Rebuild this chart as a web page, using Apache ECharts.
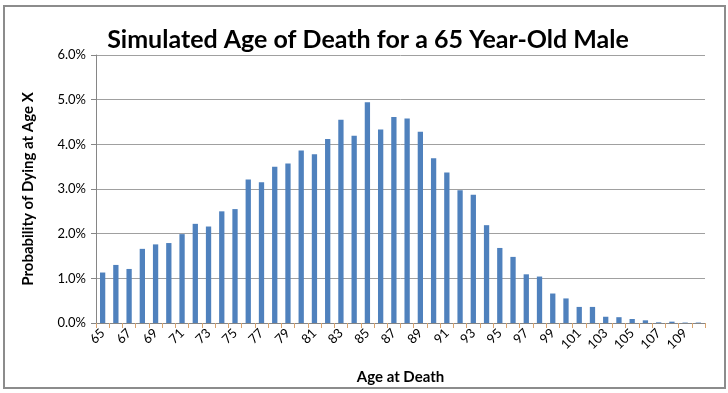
<!DOCTYPE html>
<html><head><meta charset="utf-8">
<script src="https://cdn.jsdelivr.net/npm/echarts@6/dist/echarts.min.js"></script>
<style>html,body{margin:0;padding:0;background:#fff}#c{width:728px;height:393px}
#frame{position:absolute;left:3px;top:5px;width:719px;height:380px;border:2px solid #8c8c8c;pointer-events:none}</style>
</head><body><div id="c"></div><div id="frame"></div>
<script>
const ages = [65,66,67,68,69,70,71,72,73,74,75,76,77,78,79,80,81,82,83,84,85,86,87,88,89,90,91,92,93,94,95,96,97,98,99,100,101,102,103,104,105,106,107,108,109,110];
const probs = [1.13,1.30,1.21,1.66,1.76,1.79,1.99,2.22,2.16,2.50,2.55,3.21,3.15,3.50,3.57,3.86,3.78,4.12,4.55,4.19,4.94,4.33,4.61,4.58,4.28,3.69,3.37,2.97,2.87,2.19,1.68,1.48,1.09,1.04,0.66,0.55,0.36,0.36,0.14,0.13,0.09,0.06,0.015,0.03,0.01,0.01];
const yTicks = [0,1,2,3,4,5,6];
const chart = echarts.init(document.getElementById('c'));
const font = 'Lato, "Open Sans", sans-serif';
chart.setOption({
  animation:false,
  title:{text:'Simulated Age of Death for a 65 Year-Old Male',left:363,textAlign:'center',top:22,
    textStyle:{fontFamily:font,fontSize:25,fontWeight:'bold',color:'#000'}},
  grid:{left:96,right:23,top:55,bottom:70},
  xAxis:{type:'category',data:ages.map(String),name:'Age at Death',nameLocation:'middle',nameGap:47,
    nameTextStyle:{fontFamily:font,fontSize:15,fontWeight:'bold',color:'#000'},
    axisLine:{lineStyle:{color:'#868686',width:1}},
    axisTick:{show:true,interval:0,alignWithLabel:false,length:5,lineStyle:{color:'#d9a46e'}},
    axisLabel:{interval:1,rotate:45,fontFamily:font,fontSize:13,color:'#000',margin:8}},
  yAxis:{type:'value',min:0,max:6,interval:1,name:'Probability of Dying at Age X',nameLocation:'middle',nameGap:60,
    nameTextStyle:{fontFamily:font,fontSize:15,fontWeight:'bold',color:'#000'},
    axisLine:{show:true,lineStyle:{color:'#868686'}},
    axisTick:{show:true,length:5,lineStyle:{color:'#868686'}},
    splitLine:{lineStyle:{color:'#a0a0a0',width:1}},
    axisLabel:{formatter:v=>v.toFixed(1)+'%',fontFamily:font,fontSize:13,color:'#000',margin:10}},
  series:[{type:'bar',data:probs,barWidth:'40%',itemStyle:{color:'#4f81bd'}}]
});
</script></body></html>
